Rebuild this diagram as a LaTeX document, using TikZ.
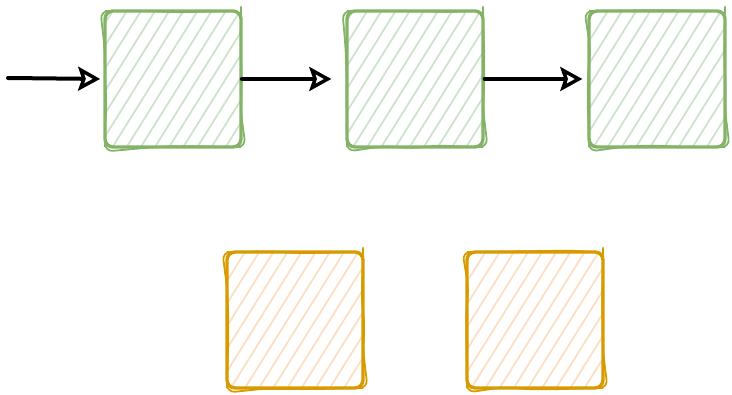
\documentclass[tikz,border=0pt]{standalone}
\usetikzlibrary{positioning,arrows.meta,patterns.meta,decorations.pathmorphing}

\definecolor{greenline}{HTML}{82B366}
\definecolor{greenfill}{HTML}{CDE3CB}
\definecolor{orangeline}{HTML}{D79B00}
\definecolor{orangefill}{HTML}{FCDFC3}

\begin{document}
\begin{tikzpicture}[x=1pt, y=-1pt, node distance=242pt, >={Stealth[open, length=22pt, width=24pt, inset=4pt, line width=3.5pt]}]
    \tikzstyle{box} = [rectangle, rounded corners=8pt, minimum width=136pt, minimum height=136pt, line width=3.4pt,
        pattern={Lines[angle=58,distance=12pt,line width=1.8pt]}]
    \tikzstyle{stage} = [box, draw=greenline, pattern color=greenfill,
        postaction={draw=greenline, line width=1.8pt, decorate, decoration={random steps, segment length=28pt, amplitude=1.5pt}}]
    \tikzstyle{spare} = [box, draw=orangeline, pattern color=orangefill,
        postaction={draw=orangeline, line width=1.8pt, decorate, decoration={random steps, segment length=28pt, amplitude=1.5pt}}]
    \tikzstyle{flow} = [->, line width=4pt, line cap=round]

    \useasboundingbox (0,0) rectangle (732,395);

    \coordinate (start) at (8,78);
    \node (first) [stage] at (173,79) {};
    \node (second) [stage, right of=first] {};
    \node (third) [stage, right of=second] {};

    \node (left) [spare] at (295,320) {};
    \node (right) [spare, right of=left, node distance=240pt] {};

    \draw [flow, shorten >=4pt] (start) -- (first.west);
    \draw [flow, shorten >=14pt] (first.east) -- (second.west);
    \draw [flow, shorten >=5pt] (second.east) -- (third.west);
\end{tikzpicture}
\end{document}
